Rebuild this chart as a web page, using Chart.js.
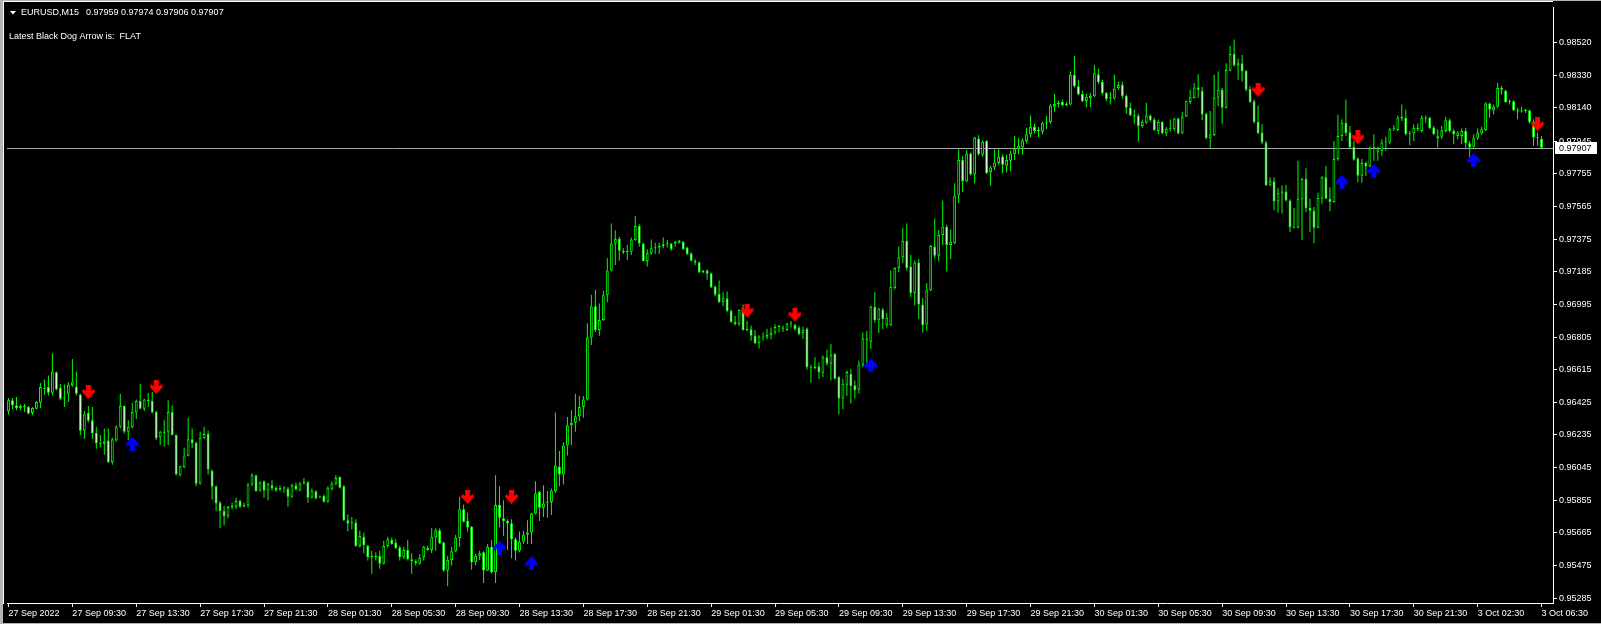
<!DOCTYPE html>
<html>
<head>
<meta charset="utf-8">
<title>EURUSD,M15</title>
<script src="https://cdn.jsdelivr.net/npm/chart.js@4.4.1/dist/chart.umd.min.js"></script>
<style>
  html, body { margin: 0; padding: 0; background: #000; overflow: hidden; }
</style>
</head>
<body>
<canvas id="eurusdChart" width="1601" height="624"></canvas>
<script>
// header texts
const symbolTitle = "EURUSD,M15";
const lastQuote = ["0.97959", "0.97974", "0.97906", "0.97907"];
const indicatorText = "Latest Black Dog Arrow is:  FLAT";
const bidPrice = 0.97907;

// one label every 16 bars (4 hours of M15)
const timeLabels = [
  "27 Sep 2022", "27 Sep 09:30", "27 Sep 13:30", "27 Sep 17:30", "27 Sep 21:30",
  "28 Sep 01:30", "28 Sep 05:30", "28 Sep 09:30", "28 Sep 13:30", "28 Sep 17:30",
  "28 Sep 21:30", "29 Sep 01:30", "29 Sep 05:30", "29 Sep 09:30", "29 Sep 13:30",
  "29 Sep 17:30", "29 Sep 21:30", "30 Sep 01:30", "30 Sep 05:30", "30 Sep 09:30",
  "30 Sep 13:30", "30 Sep 17:30", "30 Sep 21:30", "3 Oct 02:30", "3 Oct 06:30",
];
const barsPerLabel = 16;

const priceTicks = [
  0.95285, 0.95475, 0.95665, 0.95855, 0.96045, 0.96235, 0.96425, 0.96615, 0.96805,
  0.96995, 0.97185, 0.97375, 0.97565, 0.97755, 0.97945, 0.98140, 0.98330, 0.98520,
];

// OHLC in points (1 point = 0.00001)
const opens = [
  96373,96437,96408,96390,96404,96398,96362,96388,96423,96508,96514,96481,96600,96508,96446,96475,
  96523,96517,96471,96260,96363,96321,96248,96190,96183,96202,96077,96202,96283,96404,96254,96279,
  96365,96433,96388,96440,96433,96369,96221,96254,96254,96369,96235,96000,96046,96113,96210,96190,
  95950,96215,96240,96027,95936,95840,95792,95761,95815,95817,95850,95821,95825,95946,96000,95911,
  95965,95911,95942,95927,95917,95927,95923,95875,95942,95911,95952,95959,95869,95907,95871,95879,
  95846,95921,95950,95990,95936,95738,95725,95725,95588,95642,95590,95530,95530,95530,95484,95588,
  95623,95607,95580,95523,95565,95511,95499,95484,95523,95577,95565,95638,95680,95609,95446,95507,
  95557,95634,95802,95734,95700,95494,95532,95551,95446,95584,95436,95827,95750,95734,95721,95628,
  95561,95613,95653,95667,95778,95902,95811,95840,95844,95908,96050,96004,96173,96292,96306,96344,
  96398,96442,96802,96985,96846,96904,97048,97193,97350,97377,97308,97300,97302,97370,97452,97350,
  97248,97293,97322,97327,97335,97345,97350,97350,97354,97360,97327,97293,97250,97241,97181,97193,
  97177,97100,97056,97008,97031,96956,96892,96879,96962,96846,96850,96812,96769,96808,96802,96817,
  96831,96864,96860,96846,96883,96875,96860,96828,96855,96629,96624,96635,96597,96687,96649,96706,
  96572,96447,96527,96591,96524,96500,96643,96797,96778,96981,96903,96966,96874,96874,97091,97207,
  97270,97366,97216,97062,97239,96995,96878,97078,97332,97278,97399,97447,97341,97351,97630,97836,
  97711,97874,97751,97961,97867,97947,97765,97793,97818,97857,97803,97832,97870,97899,97909,97947,
  97986,98030,98005,98001,98053,98057,98147,98163,98174,98155,98159,98332,98265,98221,98178,98197,
  98207,98336,98290,98226,98194,98194,98255,98274,98211,98140,98097,98095,98034,98053,98095,98072,
  98005,98057,97992,98018,98015,98078,97990,98090,98174,98197,98259,98240,98105,97963,97982,98198,
  98246,98140,98357,98453,98386,98400,98355,98250,98178,98057,97996,97938,97688,97713,97595,97645,
  97653,97601,97445,97441,97607,97726,97557,97540,97441,97611,97736,97611,97592,97842,97976,98053,
  97996,97913,97845,97745,97819,97799,97905,97884,97890,97938,97938,98015,98011,98078,98082,97986,
  97992,98024,98005,98082,98082,98026,97974,97972,98005,98067,98005,97976,97976,98005,97934,97913,
  97961,97992,98011,98165,98126,98146,98255,98240,98173,98178,98126,98119,98124,98124,98057,97967,
  97959,
];
const highs = [
  96450,96450,96456,96412,96417,96404,96398,96433,96537,96558,96581,96710,96604,96533,96529,96542,
  96677,96604,96475,96375,96404,96398,96283,96235,96273,96273,96219,96292,96475,96408,96321,96423,
  96442,96533,96446,96479,96485,96375,96260,96321,96437,96408,96238,96056,96161,96335,96273,96196,
  96254,96283,96260,96033,95940,95850,95821,95821,95840,95869,95859,95840,95956,96013,96004,95965,
  95969,95956,95971,95936,95940,95936,95931,95952,95956,95961,95984,95965,95923,95913,95882,95888,
  95936,95965,96000,95994,95942,95773,95757,95744,95677,95667,95596,95561,95552,95561,95619,95642,
  95638,95628,95590,95584,95625,95546,95511,95542,95590,95590,95692,95692,95692,95615,95532,95584,
  95653,95873,95830,95782,95705,95542,95561,95557,95600,95623,96000,95936,95854,95744,95744,95638,
  95673,95677,95738,95782,95965,95908,95942,95908,95921,96365,96142,96192,96340,96379,96475,96462,
  96462,96885,97052,97081,97000,97075,97264,97466,97427,97389,97322,97341,97385,97512,97462,97354,
  97316,97373,97354,97354,97385,97370,97354,97366,97370,97364,97331,97297,97258,97245,97196,97200,
  97181,97104,97135,97066,97071,96966,96927,96966,96994,96898,96873,96846,96816,96831,96854,96860,
  96879,96875,96873,96889,96898,96883,96869,96866,96860,96643,96687,96658,96697,96731,96764,96712,
  96577,96562,96610,96620,96552,96668,96831,96841,96989,97066,96976,96976,96947,97193,97212,97332,
  97441,97466,97284,97251,97259,97033,97120,97341,97495,97428,97601,97457,97432,97701,97899,97861,
  97893,97880,97970,97980,97951,97951,97803,97899,97899,97870,97867,97890,97976,97963,97963,98024,
  98095,98047,98028,98059,98092,98163,98221,98182,98188,98172,98351,98442,98303,98240,98221,98226,
  98390,98367,98303,98232,98232,98332,98294,98294,98217,98169,98130,98105,98072,98169,98101,98082,
  98072,98063,98028,98072,98082,98082,98117,98182,98246,98284,98336,98261,98111,98121,98332,98352,
  98255,98400,98500,98538,98428,98448,98361,98265,98188,98153,98044,97947,97736,97736,97672,97688,
  97692,97607,97557,97832,97730,97788,97611,97563,97645,97742,97803,97678,97947,98101,98073,98188,
  98034,97947,97851,97842,97826,97915,97986,97915,97957,97972,98024,98038,98096,98159,98130,98005,
  98044,98049,98096,98096,98088,98034,98015,98034,98088,98076,98015,98005,98021,98024,97947,97986,
  98019,98030,98173,98169,98159,98284,98269,98246,98188,98184,98140,98146,98134,98130,98073,97996,
  97974,
];
const lows = [
  96354,96385,96379,96379,96369,96354,96350,96385,96392,96469,96465,96465,96494,96437,96398,96427,
  96514,96465,96235,96211,96308,96211,96154,96163,96119,96072,96061,96196,96273,96244,96206,96273,
  96327,96385,96375,96398,96360,96206,96177,96167,96177,96231,96000,95994,96042,96109,96158,95936,
  95946,96211,96004,95859,95792,95692,95709,95750,95802,95802,95811,95811,95811,95936,95904,95904,
  95869,95854,95911,95904,95907,95898,95817,95869,95911,95907,95946,95840,95865,95859,95869,95840,
  95840,95911,95942,95923,95734,95673,95686,95584,95580,95546,95503,95426,95503,95455,95480,95580,
  95596,95571,95503,95513,95503,95426,95474,95480,95503,95561,95546,95561,95600,95436,95353,95474,
  95551,95584,95725,95673,95450,95474,95507,95373,95442,95430,95373,95696,95648,95565,95517,95503,
  95551,95600,95600,95600,95773,95734,95757,95753,95769,95898,95936,95946,96115,96177,96254,96315,
  96335,96436,96758,96835,96812,96898,97008,97187,97225,97250,97289,97254,97283,97366,97331,97245,
  97216,97283,97289,97289,97322,97327,97308,97331,97350,97312,97283,97245,97225,97177,97177,97139,
  97091,97043,97004,96985,96950,96889,96873,96869,96842,96839,96783,96764,96739,96783,96792,96792,
  96821,96831,96835,96841,96860,96841,96816,96793,96616,96539,96616,96562,96572,96639,96552,96558,
  96354,96385,96462,96418,96447,96475,96629,96639,96735,96889,96828,96851,96860,96870,97082,97182,
  97235,97193,97039,96989,96912,96831,96841,97072,97264,97245,97341,97187,97259,97347,97586,97649,
  97707,97745,97701,97861,97855,97755,97688,97778,97809,97759,97765,97770,97836,97870,97867,97932,
  97967,97990,97970,97986,98015,98047,98117,98144,98149,98149,98155,98259,98213,98174,98144,98144,
  98201,98278,98213,98178,98159,98188,98246,98194,98105,98092,98044,97943,98024,98047,98059,98005,
  97986,97986,97976,98001,98005,97986,97988,98086,98163,98194,98197,98069,97957,97903,97976,98149,
  98044,98136,98352,98380,98303,98294,98236,98169,98049,97986,97928,97684,97684,97543,97530,97524,
  97595,97415,97438,97438,97370,97534,97415,97351,97438,97582,97607,97538,97588,97832,97947,97976,
  97903,97832,97707,97703,97745,97794,97832,97832,97861,97890,97928,98005,98005,98063,97980,97922,
  97947,98003,97996,98053,98015,97980,97909,97957,97996,97996,97928,97957,97928,97899,97851,97909,
  97953,97980,98005,98082,98101,98140,98217,98169,98159,98121,98073,98111,98111,98049,97919,97919,
  97906,
];
const closes = [
  96437,96408,96390,96404,96398,96360,96392,96427,96514,96504,96481,96604,96500,96446,96450,96527,
  96542,96475,96260,96356,96317,96244,96186,96183,96196,96077,96210,96283,96404,96254,96283,96369,
  96433,96388,96442,96433,96365,96215,96254,96248,96369,96235,96004,96052,96115,96210,96186,95950,
  96219,96240,96033,95933,95836,95792,95761,95815,95821,95850,95817,95825,95946,96000,95907,95959,
  95911,95950,95923,95911,95927,95923,95875,95942,95917,95950,95959,95869,95911,95865,95875,95846,
  95927,95952,95984,95927,95738,95719,95721,95588,95646,95592,95523,95523,95523,95484,95588,95628,
  95600,95577,95523,95565,95511,95500,95488,95519,95584,95565,95642,95680,95603,95446,95507,95557,
  95638,95802,95730,95696,95494,95532,95546,95446,95584,95436,95827,95753,95734,95719,95627,95561,
  95613,95653,95667,95778,95894,95811,95836,95844,95911,96057,96004,96173,96292,96306,96344,96398,
  96442,96802,96985,96846,96904,97048,97193,97350,97377,97308,97297,97302,97373,97452,97350,97248,
  97293,97322,97327,97335,97345,97350,97316,97360,97366,97318,97289,97250,97239,97181,97193,97173,
  97094,97052,97008,97031,96956,96892,96879,96962,96846,96854,96812,96769,96808,96802,96817,96831,
  96864,96866,96854,96883,96879,96850,96821,96847,96629,96624,96633,96601,96687,96649,96702,96562,
  96447,96533,96601,96520,96495,96645,96797,96789,96981,96903,96970,96908,96918,97097,97207,97270,
  97366,97207,97062,97239,96995,96874,97078,97335,97278,97399,97447,97341,97360,97630,97836,97711,
  97874,97751,97967,97870,97943,97759,97793,97822,97857,97809,97836,97874,97899,97917,97951,97986,
  98030,98005,98009,98053,98059,98153,98163,98169,98155,98163,98332,98265,98217,98178,98205,98211,
  98342,98290,98226,98192,98201,98251,98274,98207,98140,98097,98090,98034,98059,98095,98067,98009,
  98057,97992,98018,98020,98078,97990,98090,98178,98201,98259,98246,98101,97963,97984,98198,98246,
  98140,98361,98453,98386,98400,98352,98246,98174,98057,97992,97938,97688,97713,97595,97645,97653,
  97601,97445,97441,97611,97726,97557,97540,97441,97615,97736,97611,97592,97842,97976,98053,97992,
  97909,97838,97745,97819,97799,97905,97909,97905,97938,97942,98015,98021,98082,98088,97986,97992,
  98024,98015,98082,98078,98023,97986,97963,98009,98067,98005,97986,97996,98007,97934,97909,97963,
  97996,98015,98165,98130,98146,98255,98246,98173,98178,98126,98119,98124,98121,98057,97967,97963,
  97907,
];

// Black Dog arrows: bar index and price (points)
const sellArrowBars = [20, 37, 115, 126, 185, 197, 313, 338, 383];
const sellArrowPrices = [96485, 96514, 95874, 95874, 96959, 96936, 98246, 97969, 98044];
const buyArrowBars = [31, 123, 131, 216, 334, 342, 367];
const buyArrowPrices = [96185, 95579, 95487, 96641, 97709, 97773, 97836];

const POINT = 100000;
const toPrice = (v) => v / POINT;

const LIME = "#00ff00";
const FONT = "'Liberation Sans', Arial, sans-serif";

function arrowImage(color, pointsDown) {
  const c = document.createElement("canvas");
  c.width = 13;
  c.height = 14;
  const g = c.getContext("2d");
  if (!pointsDown) {
    g.translate(0, 14);
    g.scale(1, -1);
  }
  g.fillStyle = color;
  g.beginPath();
  g.moveTo(4, 0);
  g.lineTo(9, 0);
  g.lineTo(9, 6);
  g.lineTo(12, 4);
  g.lineTo(13, 7);
  g.lineTo(6.5, 14);
  g.lineTo(0, 7);
  g.lineTo(1, 4);
  g.lineTo(4, 6);
  g.closePath();
  g.fill();
  return c;
}

const bodyData = opens.map((o, i) => ({ x: i, y: [toPrice(o), toPrice(closes[i])] }));
const wickData = highs.map((h, i) => ({ x: i, y: [toPrice(lows[i]), toPrice(h)] }));
const sellData = sellArrowBars.map((b, k) => ({ x: b, y: toPrice(sellArrowPrices[k]) }));
const buyData = buyArrowBars.map((b, k) => ({ x: b, y: toPrice(buyArrowPrices[k]) }));

const terminalFrame = {
  id: "terminalFrame",
  beforeDraw(chart) {
    const ctx = chart.ctx;
    ctx.save();
    ctx.fillStyle = "#000000";
    ctx.fillRect(0, 0, chart.width, chart.height);
    ctx.fillStyle = "#b4b4b4";
    ctx.fillRect(0, 0, 3, chart.height);
    ctx.fillRect(0, 0, chart.width, 1);
    ctx.fillRect(0, chart.height - 1, chart.width, 1);
    ctx.fillStyle = "#ffffff";
    ctx.fillRect(3, 1, chart.chartArea.right - 3, 1);
    ctx.fillRect(3, 1, 1, chart.chartArea.bottom);
    ctx.restore();
  },
  beforeDatasetsDraw(chart) {
    const { ctx, chartArea, scales } = chart;
    const y = Math.round(scales.y.getPixelForValue(bidPrice)) + 0.5;
    ctx.save();
    ctx.strokeStyle = "#a8a8b0";
    ctx.lineWidth = 1;
    ctx.beginPath();
    ctx.moveTo(chartArea.left, y);
    ctx.lineTo(chartArea.right, y);
    ctx.stroke();
    ctx.restore();
  },
  afterDraw(chart) {
    const { ctx, chartArea, scales } = chart;
    ctx.save();
    ctx.font = "9px " + FONT;
    ctx.textBaseline = "middle";
    ctx.fillStyle = "#ffffff";
    ctx.beginPath();
    ctx.moveTo(10, 11);
    ctx.lineTo(16, 11);
    ctx.lineTo(13, 14.5);
    ctx.closePath();
    ctx.fill();
    ctx.fillText(symbolTitle, 21, 13);
    ctx.fillText(lastQuote.join(" "), 86, 13);
    ctx.fillText(indicatorText, 9, 37);

    // current bid label on the price scale
    const y = Math.round(scales.y.getPixelForValue(bidPrice));
    ctx.fillStyle = "#ffffff";
    ctx.fillRect(chartArea.right + 2, y - 6, 42, 12);
    ctx.fillStyle = "#000000";
    ctx.fillText(bidPrice.toFixed(5), chartArea.right + 6, y + 0.5);
    ctx.restore();
  },
};

const config = {
  type: "bar",
  data: {
    datasets: [
      {
        type: "scatter",
        data: sellData,
        pointStyle: arrowImage("#ff0000", true),
        pointRadius: 6,
        order: 0,
      },
      {
        type: "scatter",
        data: buyData,
        pointStyle: arrowImage("#0000ff", false),
        pointRadius: 6,
        order: 0,
      },
      {
        data: bodyData,
        grouped: false,
        maxBarThickness: 3,
        minBarLength: 1,
        inflateAmount: 0,
        borderWidth: 1,
        borderSkipped: false,
        borderColor: LIME,
        backgroundColor: (c) =>
          closes[c.dataIndex] < opens[c.dataIndex] ? "#ffffff" : "#000000",
        order: 1,
      },
      {
        data: wickData,
        grouped: false,
        maxBarThickness: 1,
        minBarLength: 1,
        inflateAmount: 0,
        borderWidth: 0,
        backgroundColor: LIME,
        order: 2,
      },
    ],
  },
  options: {
    responsive: false,
    animation: false,
    events: [],
    layout: { padding: { left: 4, top: 2, right: 0, bottom: 0 } },
    plugins: {
      legend: { display: false },
      tooltip: { enabled: false },
    },
    scales: {
      x: {
        type: "linear",
        min: -0.375,
        max: 386.875,
        offset: false,
        afterBuildTicks: (scale) => {
          scale.ticks = timeLabels.map((_, k) => ({ value: k * barsPerLabel }));
        },
        afterFit: (scale) => {
          scale.height = 21;
        },
        grid: {
          offset: false,
          drawOnChartArea: false,
          drawTicks: true,
          tickLength: 4,
          color: "#ffffff",
        },
        border: { display: true, color: "#ffffff", width: 1 },
        ticks: {
          autoSkip: false,
          maxRotation: 0,
          minRotation: 0,
          align: "start",
          padding: 1,
          color: "#ffffff",
          font: { family: FONT, size: 9 },
          callback: (value) => timeLabels[Math.round(value / barsPerLabel)],
        },
      },
      y: {
        type: "linear",
        position: "right",
        min: 0.952561,
        max: 0.987249,
        beginAtZero: false,
        afterBuildTicks: (scale) => {
          scale.ticks = priceTicks.map((v) => ({ value: v }));
        },
        afterFit: (scale) => {
          scale.width = 48;
        },
        grid: {
          drawOnChartArea: false,
          drawTicks: true,
          tickLength: 4,
          color: "#ffffff",
        },
        border: { display: true, color: "#ffffff", width: 1 },
        ticks: {
          padding: 2,
          color: "#ffffff",
          font: { family: FONT, size: 9 },
          callback: (value) => Number(value).toFixed(5),
        },
      },
    },
  },
  plugins: [terminalFrame],
};

new Chart(document.getElementById("eurusdChart"), config);
</script>
</body>
</html>
